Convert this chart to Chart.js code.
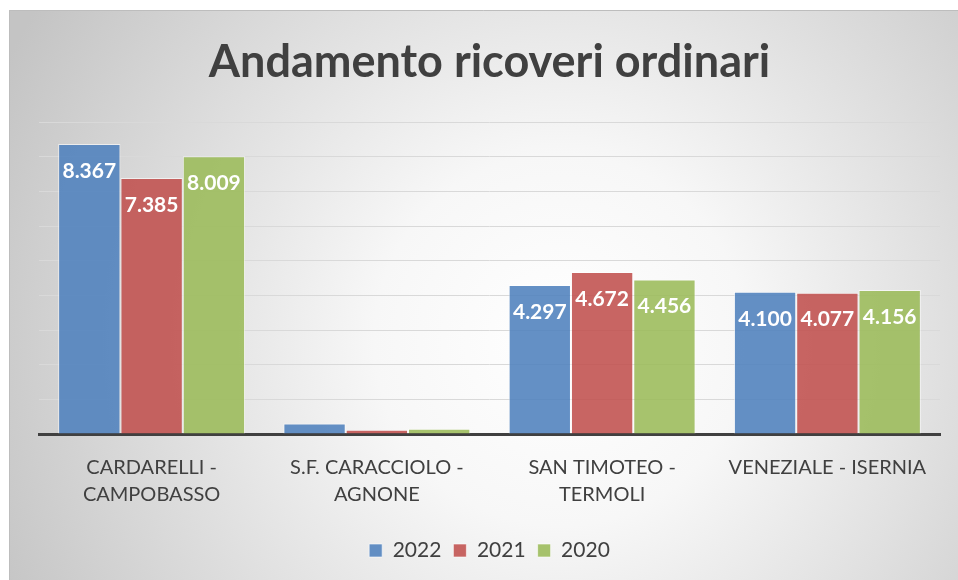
<!DOCTYPE html>
<html>
<head>
<meta charset="utf-8">
<script src="https://cdn.jsdelivr.net/npm/chart.js@4/dist/chart.umd.min.js"></script>
<style>
html,body{margin:0;padding:0;background:#fff;}
#wrap{width:958px;height:580px;position:relative;}
</style>
</head>
<body>
<div id="wrap"><canvas id="c" width="958" height="580"></canvas></div>
<script>
const categories = [['CARDARELLI -','CAMPOBASSO'], ['S.F. CARACCIOLO -','AGNONE'], ['SAN TIMOTEO -','TERMOLI'], 'VENEZIALE - ISERNIA'];
const seriesNames = ['2022', '2021', '2020'];
const values2022 = [8367, 300, 4297, 4100];
const values2021 = [7385, 120, 4672, 4077];
const values2020 = [8009, 150, 4456, 4156];
const yMax = 9000;
const yStep = 1000;

const FONT = 'Lato, "Open Sans", sans-serif';

const bgPlugin = {
  id: 'bg',
  beforeDraw(chart) {
    const ctx = chart.ctx;
    ctx.save();
    ctx.fillStyle = '#ffffff';
    ctx.fillRect(0, 0, chart.width, chart.height);
    const g = ctx.createRadialGradient(560, 340, 0, 560, 340, 620);
    g.addColorStop(0, '#ffffff');
    g.addColorStop(0.3, '#f7f7f7');
    g.addColorStop(1, '#c4c4c4');
    ctx.fillStyle = g;
    ctx.fillRect(9, 10, chart.width - 9, chart.height - 10);
    ctx.strokeStyle = '#bdbdbd';
    ctx.lineWidth = 1;
    ctx.beginPath();
    ctx.moveTo(9.5, chart.height);
    ctx.lineTo(9.5, 10.5);
    ctx.lineTo(chart.width, 10.5);
    ctx.stroke();
    ctx.restore();
  }
};

function fmt(v) {
  return v.toString().replace(/\B(?=(\d{3})+(?!\d))/g, '.');
}

const labelPlugin = {
  id: 'vlabels',
  afterDatasetsDraw(chart) {
    const ctx = chart.ctx;
    ctx.save();
    ctx.font = 'bold 21px ' + FONT;
    ctx.fillStyle = '#ffffff';
    ctx.textAlign = 'center';
    ctx.textBaseline = 'middle';
    chart.data.datasets.forEach((ds, i) => {
      const meta = chart.getDatasetMeta(i);
      meta.data.forEach((bar, j) => {
        const v = ds.data[j];
        if (v < 1000) return;
        ctx.fillText(fmt(v), bar.x, bar.y + 27);
      });
    });
    ctx.restore();
  }
};

new Chart(document.getElementById('c'), {
  type: 'bar',
  data: {
    labels: categories,
    datasets: [
      { label: seriesNames[0], data: values2022, backgroundColor: 'rgba(79,129,189,0.88)', borderColor: 'rgba(255,255,255,0.6)', borderWidth: 1 },
      { label: seriesNames[1], data: values2021, backgroundColor: 'rgba(192,80,77,0.88)', borderColor: 'rgba(255,255,255,0.6)', borderWidth: 1 },
      { label: seriesNames[2], data: values2020, backgroundColor: 'rgba(155,187,89,0.88)', borderColor: 'rgba(255,255,255,0.6)', borderWidth: 1 }
    ]
  },
  options: {
    responsive: false,
    animation: false,
    devicePixelRatio: 1,
    layout: { padding: { left: 39, right: 18, top: 0, bottom: 9 } },
    datasets: { bar: { categoryPercentage: 0.83, barPercentage: 1.0 } },
    plugins: {
      title: {
        display: true,
        text: 'Andamento ricoveri ordinari',
        color: '#404040',
        font: { family: FONT, size: 45, weight: 'bold', lineHeight: 1.2 },
        padding: { top: 35, bottom: 33 }
      },
      legend: {
        position: 'bottom',
        labels: {
          color: '#404040',
          font: { family: FONT, size: 21 },
          boxWidth: 13,
          boxHeight: 13,
          padding: 12
        }
      },
      tooltip: { enabled: false }
    },
    scales: {
      x: {
        grid: { display: false, drawTicks: false },
        border: { display: true, color: '#404040', width: 3 },
        ticks: { color: '#404040', font: { family: FONT, size: 20, lineHeight: 1.35 }, padding: 20, maxRotation: 0, autoSkip: false },
        afterFit(scale) { scale.height = 94; }
      },
      y: {
        min: 0,
        max: yMax,
        ticks: { display: false, stepSize: yStep },
        grid: { color: '#d9d9d9', lineWidth: 1, drawTicks: false },
        border: { display: false },
        afterFit(scale) { scale.width = 0; }
      }
    }
  },
  plugins: [bgPlugin, labelPlugin]
});
</script>
</body>
</html>
